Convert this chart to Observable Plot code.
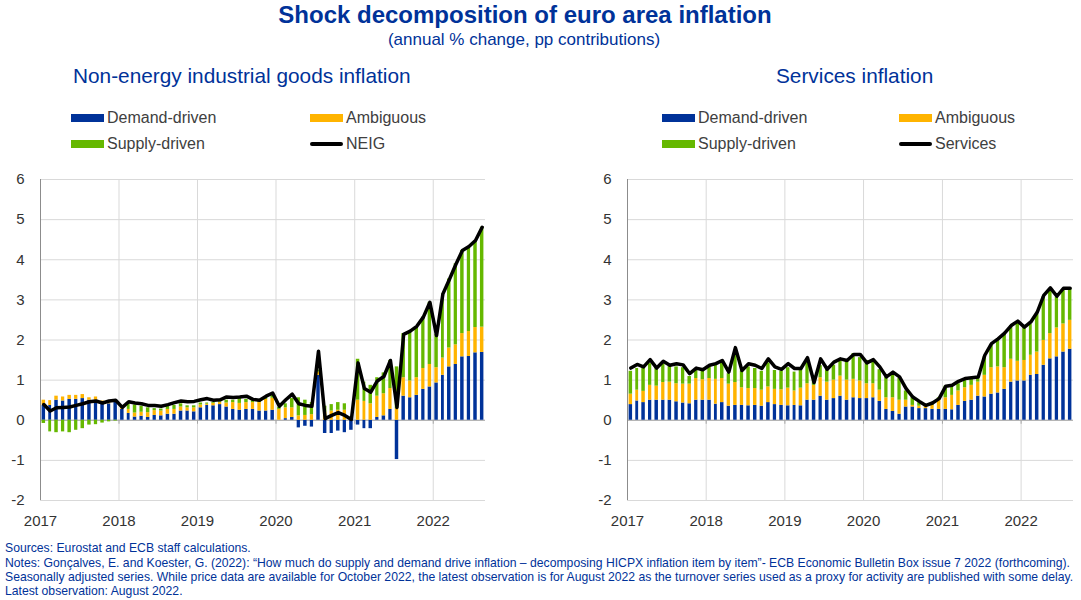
<!DOCTYPE html>
<html>
<head>
<meta charset="utf-8">
<script src="https://cdn.jsdelivr.net/npm/d3@7"></script>
<script src="https://cdn.jsdelivr.net/npm/@observablehq/plot@0.6"></script>
<style>
  html, body { margin: 0; padding: 0; background: #fff; }
  #wrap { position: relative; width: 1081px; height: 600px; overflow: hidden; font-family: "Liberation Sans", Arial, sans-serif; }
  .abs { position: absolute; white-space: nowrap; }
  .title { color: #003299; font-weight: bold; font-size: 24px; }
  .sub { color: #003299; font-size: 17px; }
  .ptitle { color: #003299; font-size: 20.8px; }
  .leg { font-size: 16px; color: #404040; line-height: 16px; }
  .sw { position: absolute; width: 33px; height: 8px; }
  .lsw { position: absolute; width: 33px; height: 4px; background: #000; border-radius: 2px; }
  .foot { color: #003299; font-size: 12.2px; left: 5px; line-height: 14px; }
</style>
</head>
<body>
<div id="wrap">
  <div class="abs title" style="left:0;width:1050px;text-align:center;top:1px;">Shock decomposition of euro area inflation</div>
  <div class="abs sub" style="left:0;width:1048px;text-align:center;top:30px;">(annual % change, pp contributions)</div>
  <div class="abs ptitle" style="left:73px;top:64px;">Non-energy industrial goods inflation</div>
  <div class="abs ptitle" style="left:776px;top:64px;">Services inflation</div>
  <div id="legL"></div>
  <div id="legR"></div>
  <div id="chartL" class="abs" style="left:0;top:170px;"></div>
  <div id="chartR" class="abs" style="left:587px;top:170px;"></div>
  <div class="abs foot" style="top:541px;">Sources: Eurostat and ECB staff calculations.</div>
  <div class="abs foot" style="top:556px;">Notes: Gonçalves, E. and Koester, G. (2022): “How much do supply and demand drive inflation – decomposing HICPX inflation item by item”- ECB Economic Bulletin Box issue 7 2022 (forthcoming).</div>
  <div class="abs foot" style="top:570px;">Seasonally adjusted series. While price data are available for October 2022, the latest observation is for August 2022 as the turnover series used as a proxy for activity are published with some delay.</div>
  <div class="abs foot" style="top:584px;">Latest observation: August 2022.</div>
</div>
<script>
// ---- Data (monthly, Jan 2017 – Aug 2022), pp contributions ----
const seriesNames = ["Demand-driven", "Ambiguous", "Supply-driven"];
const seriesColors = ["#003299", "#ffb400", "#65b800"];
const yTickValues = [-2, -1, 0, 1, 2, 3, 4, 5, 6];
const yearLabels = [2017, 2018, 2019, 2020, 2021, 2022];

const neigDemand = [0.37,0.37,0.50,0.48,0.52,0.52,0.54,0.50,0.50,0.44,0.41,0.46,
  0.27,0.17,0.08,0.10,0.07,0.12,0.11,0.15,0.15,0.23,0.23,0.21,
  0.31,0.37,0.36,0.39,0.33,0.27,0.25,0.27,0.27,0.23,0.23,0.25,
  0.00,0.04,0.07,-0.19,-0.15,-0.17,1.12,-0.33,-0.33,-0.27,-0.31,-0.25,
  -0.12,-0.21,-0.21,0.07,0.11,0.27,-0.98,0.60,0.56,0.62,0.77,0.83,
  0.93,1.12,1.33,1.39,1.58,1.59,1.68,1.69];
const neigAmbiguous = [0.13,0.12,0.10,0.10,0.10,0.10,0.10,0.06,0.08,0.04,0.03,0.02,
  0.05,0.10,0.10,0.10,0.12,0.12,0.12,0.12,0.12,0.10,0.08,0.10,
  0.07,0.03,0.06,0.05,0.10,0.17,0.17,0.17,0.17,0.21,0.29,0.30,
  0.27,0.27,0.24,0.11,0.12,0.14,0.08,0.20,0.23,0.25,0.25,0.05,
  0.50,0.47,0.41,0.53,0.55,0.52,0.29,0.46,0.42,0.44,0.52,0.56,
  0.38,0.43,0.47,0.49,0.58,0.62,0.63,0.63];
const neigSupply = [-0.08,-0.29,-0.31,-0.29,-0.31,-0.25,-0.21,-0.12,-0.11,-0.07,-0.04,-0.02,
  0.02,0.15,0.20,0.15,0.12,0.05,0.05,0.08,0.10,0.08,0.05,0.05,
  0.05,0.03,0.02,0.02,0.07,0.06,0.12,0.08,0.05,0.03,0.05,0.10,
  0.05,0.10,0.23,0.45,0.38,0.30,0.05,0.15,0.16,0.19,0.16,0.02,
  1.02,0.48,0.46,0.46,0.52,0.70,1.04,1.10,1.22,1.26,1.28,1.55,
  0.83,1.60,1.72,2.02,2.07,2.08,2.15,2.49];
const neigTotal = [0.39,0.23,0.31,0.32,0.33,0.37,0.41,0.46,0.48,0.43,0.48,0.50,
  0.32,0.46,0.43,0.41,0.37,0.37,0.35,0.39,0.44,0.48,0.46,0.47,
  0.51,0.54,0.50,0.51,0.58,0.57,0.58,0.60,0.52,0.50,0.60,0.68,
  0.35,0.51,0.65,0.41,0.37,0.35,1.72,0.04,0.12,0.19,0.12,0.02,
  1.43,0.79,0.70,0.98,1.09,1.49,0.32,2.14,2.22,2.34,2.57,2.94,
  2.11,3.15,3.50,3.88,4.23,4.33,4.48,4.81];

const servDemand = [0.39,0.48,0.44,0.50,0.50,0.50,0.50,0.46,0.43,0.41,0.50,0.50,
  0.50,0.40,0.44,0.35,0.37,0.37,0.36,0.37,0.35,0.44,0.39,0.37,
  0.36,0.37,0.36,0.50,0.50,0.60,0.50,0.54,0.60,0.50,0.56,0.54,
  0.54,0.56,0.47,0.27,0.22,0.15,0.33,0.33,0.29,0.29,0.27,0.27,
  0.27,0.26,0.37,0.47,0.50,0.60,0.58,0.65,0.68,0.77,0.95,0.98,
  0.98,1.12,1.14,1.37,1.53,1.58,1.70,1.77];
const servAmbiguous = [0.26,0.27,0.28,0.37,0.35,0.44,0.45,0.45,0.47,0.49,0.54,0.51,
  0.54,0.62,0.60,0.55,0.57,0.44,0.43,0.42,0.40,0.39,0.38,0.39,
  0.44,0.36,0.44,0.41,0.37,0.46,0.45,0.46,0.50,0.50,0.46,0.44,
  0.37,0.35,0.28,0.29,0.34,0.35,0.17,0.04,0.06,0.06,0.10,0.23,
  0.29,0.36,0.36,0.34,0.37,0.35,0.54,0.66,0.65,0.54,0.57,0.49,
  0.51,0.50,0.56,0.62,0.63,0.72,0.70,0.72];
const servSupply = [0.57,0.54,0.61,0.54,0.48,0.47,0.39,0.42,0.41,0.19,0.20,0.23,
  0.29,0.35,0.43,0.26,0.68,0.42,0.54,0.50,0.47,0.60,0.47,0.46,
  0.51,0.47,0.45,0.55,0.19,0.30,0.31,0.37,0.38,0.49,0.64,0.58,
  0.58,0.54,0.51,0.52,0.60,0.54,0.23,0.21,0.09,0.02,0.04,0.06,
  0.29,0.21,0.18,0.20,0.17,0.11,0.46,0.57,0.70,0.85,0.84,0.98,
  0.83,0.78,0.95,1.09,1.12,0.77,0.86,0.79];
const servTotal = [1.30,1.39,1.33,1.51,1.30,1.47,1.37,1.41,1.38,1.16,1.30,1.26,
  1.37,1.41,1.49,1.20,1.81,1.24,1.41,1.37,1.29,1.53,1.33,1.27,
  1.41,1.29,1.29,1.56,0.94,1.53,1.27,1.45,1.53,1.49,1.64,1.64,
  1.43,1.51,1.33,1.08,1.20,1.08,0.79,0.58,0.47,0.37,0.43,0.54,
  0.85,0.87,0.97,1.04,1.06,1.08,1.62,1.91,2.03,2.17,2.36,2.47,
  2.32,2.45,2.69,3.11,3.30,3.09,3.29,3.29];

// ---- Build tables ----
const firstMonth = new Date(Date.UTC(2017, 0, 1));
const endMonth = new Date(Date.UTC(2022, 8, 1));
const months = d3.utcMonth.range(firstMonth, endMonth);
const years = yearLabels.map(y => new Date(Date.UTC(y, 0, 1)));

function panel(D, A, S, L, width, marginRight) {
  const bars = [];
  months.forEach((m, i) => {
    bars.push({date: m, series: seriesNames[0], value: D[i]});
    bars.push({date: m, series: seriesNames[1], value: A[i]});
    bars.push({date: m, series: seriesNames[2], value: S[i]});
  });
  const line = months.map((m, i) => ({
    date: new Date((+m + +d3.utcMonth.offset(m, 1)) / 2),
    value: L[i]
  }));
  return Plot.plot({
    width, height: 360,
    marginLeft: 40, marginRight, marginTop: 9, marginBottom: 30,
    style: {fontFamily: '"Liberation Sans", Arial, sans-serif', fontSize: "15px", color: "#333", background: "white", overflow: "visible"},
    x: {type: "utc", domain: [firstMonth, endMonth], label: null},
    y: {domain: [-2, 6], label: null},
    color: {domain: seriesNames, range: seriesColors},
    marks: [
      Plot.gridY(yTickValues, {stroke: "#d9d9d9", strokeOpacity: 1}),
      Plot.gridX(years, {stroke: "#d9d9d9", strokeOpacity: 1}),
      Plot.ruleY([0], {stroke: "#a6a6a6"}),
      Plot.rectY(bars, {x: "date", y: "value", fill: "series", interval: "month", insetLeft: 1.6, insetRight: 1.6}),
      Plot.ruleX([firstMonth], {stroke: "#8c8c8c"}),
      Plot.ruleX(years.slice(1), {y1: 0, y2: -0.1, stroke: "#a6a6a6"}),
      Plot.lineY(line, {x: "date", y: "value", stroke: "black", strokeWidth: 3.5, strokeLinejoin: "round"}),
      Plot.axisY(yTickValues, {tickSize: 0, tickPadding: 16, fontSize: 15, label: null, tickFormat: d => String(d)}),
      Plot.axisX(years, {tickSize: 0, tickPadding: 15, tickFormat: "%Y", fontSize: 15, label: null})
    ]
  });
}

document.getElementById("chartL").appendChild(panel(neigDemand, neigAmbiguous, neigSupply, neigTotal, 500, 15));
document.getElementById("chartR").appendChild(panel(servDemand, servAmbiguous, servSupply, servTotal, 494, 8));

// ---- Legends ----
function legend(el, x1, x2, lineName) {
  const items = [
    {x: x1, y: 118, label: seriesNames[0], color: seriesColors[0]},
    {x: x2, y: 118, label: seriesNames[1], color: seriesColors[1]},
    {x: x1, y: 144, label: seriesNames[2], color: seriesColors[2]},
    {x: x2, y: 144, label: lineName, color: null}
  ];
  for (const it of items) {
    const sw = document.createElement("div");
    if (it.color) { sw.className = "sw"; sw.style.background = it.color; sw.style.top = (it.y - 4) + "px"; }
    else { sw.className = "lsw"; sw.style.top = (it.y - 2) + "px"; }
    sw.style.left = it.x + "px";
    el.appendChild(sw);
    const t = document.createElement("div");
    t.className = "abs leg";
    t.style.left = (it.x + 36) + "px";
    t.style.top = (it.y - 8) + "px";
    t.textContent = it.label;
    el.appendChild(t);
  }
}
legend(document.getElementById("legL"), 71, 310, "NEIG");
legend(document.getElementById("legR"), 662, 899, "Services");
</script>
</body>
</html>
